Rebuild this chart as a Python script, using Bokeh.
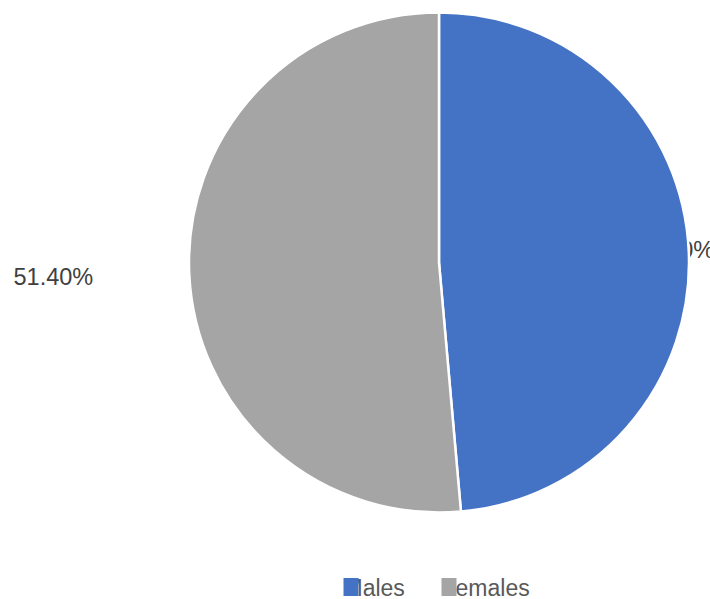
import numpy as np
from bokeh.plotting import figure
from bokeh.models import ColumnDataSource, Range1d
from bokeh.core.properties import value
from bokeh.embed import file_html
from bokeh.resources import INLINE

categories = ["Males", "Females"]
shares = [48.60, 51.40]
colors = ["#4472C4", "#A5A5A5"]
pct_labels = ["48.60%", "51.40%"]

W, H = 710, 599
p = figure(width=W, height=H, output_backend="svg", toolbar_location=None,
           x_range=Range1d(0, W), y_range=Range1d(0, H), min_border=0,
           outline_line_color=None)
p.axis.visible = False
p.grid.visible = False
p.background_fill_color = "white"
p.border_fill_color = "white"

cx, cy, r = 438.5, H - 262, 250
fr = np.array(shares) / sum(shares)
ends = np.cumsum(fr)
starts = ends - fr
start_ang = np.pi / 2 - 2 * np.pi * starts
end_ang = np.pi / 2 - 2 * np.pi * ends

# data labels (drawn before the pie so the pie covers overlaps)
lab_src = ColumnDataSource(dict(x=[634, 13], y=[H - 249, H - 276], text=pct_labels))
p.text(x="x", y="y", text="text", source=lab_src, text_font=value("Liberation Sans"),
       text_font_size="23.5px", text_color="#404040", text_baseline="middle",
       text_align="left")

src = ColumnDataSource(dict(start=start_ang, end=end_ang, color=colors, cat=categories))
p.wedge(x=cx, y=cy, radius=r, start_angle="start", end_angle="end", direction="clock",
        fill_color="color", line_color="white", line_width=2.5, source=src)

# legend
leg_x = [343, 441]
leg_src = ColumnDataSource(dict(x=leg_x, y=[H - 587] * 2, text=categories, color=colors))
p.text(x="x", y="y", text="text", source=leg_src, text_font=value("Liberation Sans"),
       text_font_size="23px", text_color="#595959", text_baseline="middle",
       text_align="left")
sq_src = ColumnDataSource(dict(x=[x + 7.5 for x in leg_x], y=[H - 586.5] * 2, color=colors))
p.rect(x="x", y="y", width=15, height=18, fill_color="color", line_color=None, source=sq_src)

open("out.html", "w").write(file_html(p, INLINE))
